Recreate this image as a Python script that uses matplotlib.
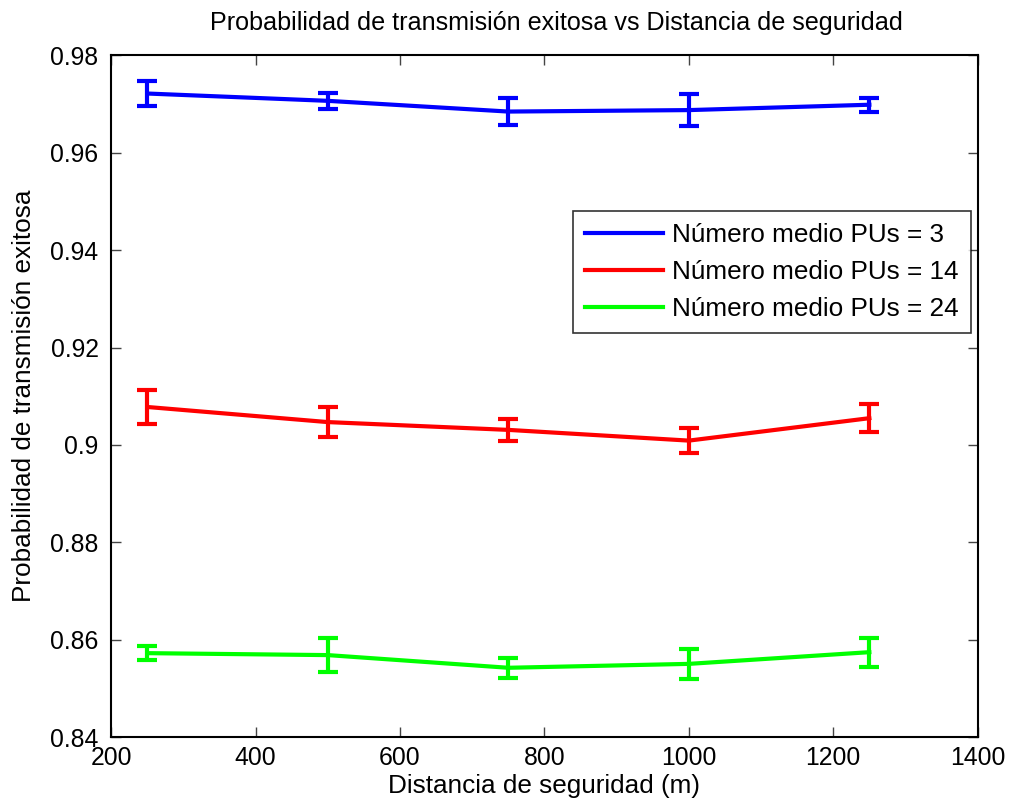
import matplotlib
matplotlib.use('Agg')
import matplotlib.pyplot as plt

plt.rcParams['font.family'] = ['Liberation Sans', 'DejaVu Sans']

distancia = [250, 500, 750, 1000, 1250]

p_3 = [0.9721, 0.9706, 0.9684, 0.9687, 0.9698]
err_3 = [0.0026, 0.0016, 0.0028, 0.0032, 0.0014]

p_14 = [0.9078, 0.9047, 0.9031, 0.9009, 0.9055]
err_14 = [0.0035, 0.0031, 0.0022, 0.0026, 0.0029]

p_24 = [0.8573, 0.8569, 0.8543, 0.8551, 0.8575]
err_24 = [0.0015, 0.0035, 0.0021, 0.0031, 0.0030]

etiquetas = ['Número medio PUs = 3', 'Número medio PUs = 14', 'Número medio PUs = 24']
colores = ['#0000ff', '#ff0000', '#00ff00']

fig = plt.figure(figsize=(10.1, 8.09), dpi=100)
ax = fig.add_axes([0.110, 0.0884, 0.858, 0.8436])

handles = []
for p, e, c, lab in zip([p_3, p_14, p_24], [err_3, err_14, err_24], colores, etiquetas):
    h = ax.errorbar(distancia, p, yerr=e, color=c, lw=3, elinewidth=3,
                    capsize=7, capthick=3, label=lab)
    handles.append(h.lines[0])

ax.set_xlim(200, 1400)
ax.set_ylim(0.84, 0.98)
ax.set_xticks([200, 400, 600, 800, 1000, 1200, 1400])
ax.set_yticks([0.84, 0.86, 0.88, 0.9, 0.92, 0.94, 0.96, 0.98])
ax.set_yticklabels(['0.84', '0.86', '0.88', '0.9', '0.92', '0.94', '0.96', '0.98'])

ax.tick_params(direction='in', length=7, width=1, color='#444444',
               top=True, right=True, labelsize=17.8)
ax.tick_params(axis='y', pad=9)
ax.tick_params(axis='x', pad=6)
for s in ax.spines.values():
    s.set_linewidth(1.5)

ax.set_title('Probabilidad de transmisión exitosa vs Distancia de seguridad',
             fontsize=18.1, pad=18, x=0.514)
ax.set_xlabel('Distancia de seguridad (m)', fontsize=18.8, labelpad=3)
ax.set_ylabel('Probabilidad de transmisión exitosa', fontsize=18.8, labelpad=10)

leg = ax.legend(handles, etiquetas, loc='upper right', bbox_to_anchor=(0.992, 0.771),
                fontsize=18.8, frameon=True, fancybox=False, edgecolor='black',
                handlelength=3.0, handletextpad=0.35, labelspacing=0.5,
                borderpad=0.45, borderaxespad=0)
leg.get_frame().set_linewidth(1.2)

fig.savefig('out.png', dpi=100)
